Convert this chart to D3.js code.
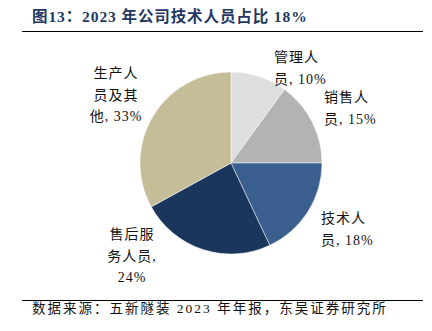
<!DOCTYPE html>
<html><head><meta charset="utf-8">
<script src="https://cdn.jsdelivr.net/npm/d3@7/dist/d3.min.js"></script>
<style>body{margin:0;background:#fff}svg{display:block}</style>
</head><body>
<svg id="c" width="432" height="331"></svg>
<script>
const categories = ["管理人员", "销售人员", "技术人员", "售后服务人员", "生产人员及其他"];
const values = [10, 15, 18, 24, 33];
const labelLines = [["管理人", "员, 10%"], ["销售人", "员, 15%"], ["技术人", "员, 18%"], ["售后服", "务人员,", "24%"], ["生产人", "员及其", "他, 33%"]];
const colors = ["#dedede", "#b3b3b3", "#3a5f8f", "#1b365c", "#c4bd97"];
const titleText = "图13：2023 年公司技术人员占比 18%";
const sourceText = "数据来源：五新隧装 2023 年年报，东吴证券研究所";

const svg = d3.select("#c");
const font = "'Liberation Serif','Noto Sans CJK SC',serif";
const cx = 231, cy = 163, r = 91;

svg.append("text").attr("x", 32).attr("y", 22).attr("fill", "#1f3864")
  .attr("font-family", font).attr("font-weight", "bold").attr("font-size", 15.5)
  .attr("letter-spacing", 0.9).text(titleText);
svg.append("line").attr("x1", 22).attr("x2", 423).attr("y1", 31.5).attr("y2", 31.5).attr("stroke", "#000").attr("stroke-width", 1.2);
svg.append("line").attr("x1", 22).attr("x2", 423).attr("y1", 300.5).attr("y2", 300.5).attr("stroke", "#000").attr("stroke-width", 1.2);
svg.append("text").attr("x", 32).attr("y", 313).attr("fill", "#111")
  .attr("font-family", font).attr("font-size", 13.5).attr("letter-spacing", 2).text(sourceText);

const pie = d3.pie().sort(null).value(d => d)(values);
const arc = d3.arc().innerRadius(0).outerRadius(r);
const g = svg.append("g").attr("transform", `translate(${cx},${cy})`);
g.selectAll("path").data(pie).join("path").attr("d", arc)
  .attr("fill", (d, i) => colors[i]).attr("stroke", "#fff").attr("stroke-width", 0.5);

// label anchors (x, first line y, anchor)
const labelPos = [[274, 62, "start"], [324, 102, "start"], [321, 223, "start"], [132, 239, "middle"], [116, 78, "middle"]];
labelLines.forEach((lines, i) => {
  const [x, y, anchor] = labelPos[i];
  const t = svg.append("text").attr("font-family", font).attr("font-size", 14)
    .attr("fill", "#111").attr("text-anchor", anchor).attr("letter-spacing", 1);
  lines.forEach((s, j) => t.append("tspan").attr("x", x).attr("y", y + j * 21.5).text(s));
});
</script>
</body></html>
